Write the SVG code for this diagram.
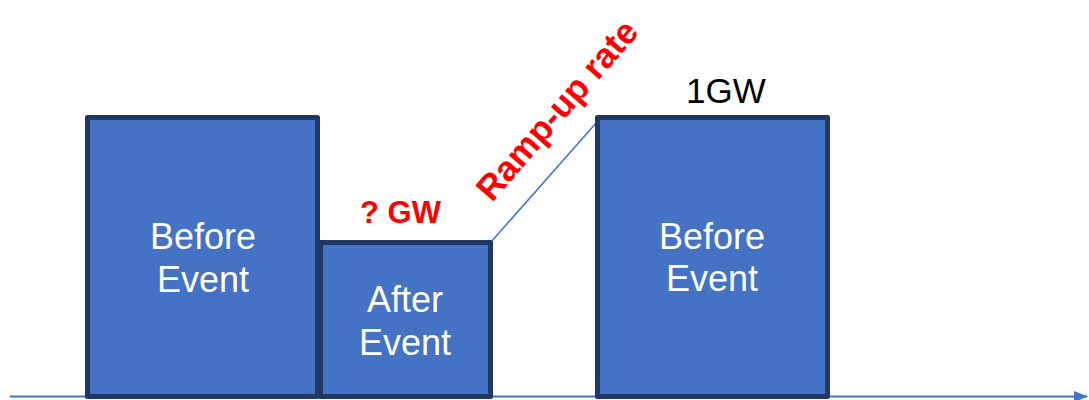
<svg xmlns="http://www.w3.org/2000/svg" width="1089" height="400" viewBox="0 0 1089 400">
<defs>
<style>
.box{fill:#4472C4;stroke:#1F3864;stroke-width:5;stroke-linejoin:round}
.lbl{font-family:"Liberation Sans",Arial,sans-serif;font-size:36px;fill:#FFFFFF;text-anchor:middle}
.red{font-family:"Liberation Sans",Arial,sans-serif;font-weight:bold;fill:#FF0000}
.conn{stroke:#4472C4;fill:none}
</style>
<marker id="arr" markerWidth="14" markerHeight="11" refX="13" refY="5.5" orient="auto" markerUnits="userSpaceOnUse">
<path d="M0,0 L14,5.5 L0,11 Z" fill="#4472C4"/>
</marker>
</defs>
<rect width="1089" height="400" fill="#FFFFFF"/>
<g id="connectors">
<line class="conn" x1="10" y1="396.5" x2="1087" y2="396.5" stroke-width="2" marker-end="url(#arr)"/>
<line class="conn" x1="491" y1="242" x2="597" y2="122" stroke-width="1.5"/>
</g>
<g id="before1">
<rect class="box" x="87.5" y="117.5" width="230" height="279"/>
<text class="lbl" x="203" y="249">Before</text>
<text class="lbl" x="203" y="292">Event</text>
</g>
<g id="after">
<rect class="box" x="320.5" y="242.5" width="170" height="154"/>
<text class="lbl" x="405" y="312">After</text>
<text class="lbl" x="405" y="355">Event</text>
</g>
<g id="before2">
<rect class="box" x="597.5" y="117.5" width="230" height="279"/>
<text class="lbl" x="712" y="249">Before</text>
<text class="lbl" x="712" y="291">Event</text>
</g>
<g id="labels">
<text class="red" x="360" y="223" font-size="31">? GW</text>
<text class="red" x="0" y="0" font-size="35" transform="translate(492,203) rotate(-49)">Ramp-up rate</text>
<text x="686" y="103" font-family="'Liberation Sans',Arial,sans-serif" font-size="35" fill="#000000">1GW</text>
</g>
</svg>
